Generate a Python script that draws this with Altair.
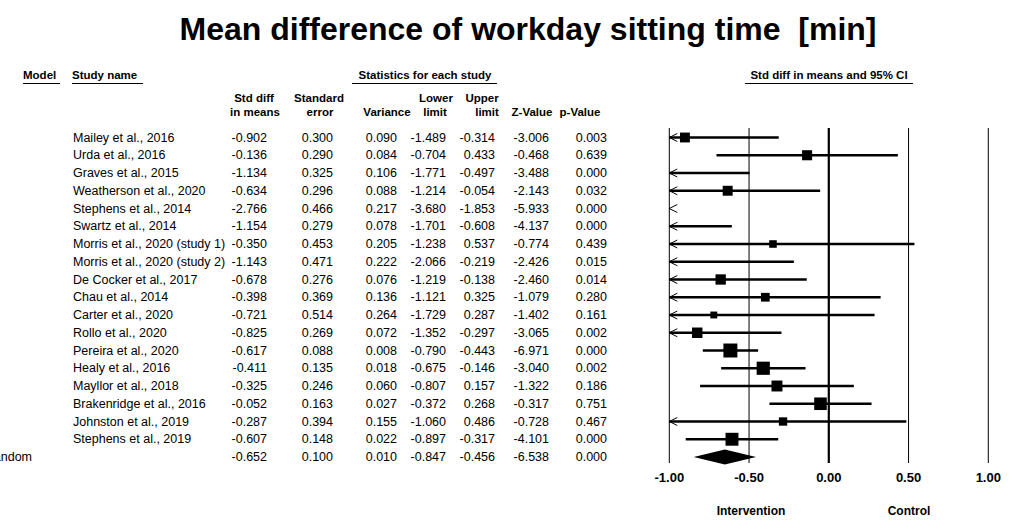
import altair as alt
import pandas as pd

# ---------------- data ----------------
studies = ["Mailey et al., 2016", "Urda et al., 2016", "Graves et al., 2015",
           "Weatherson et al., 2020", "Stephens et al., 2014", "Swartz et al., 2014",
           "Morris et al., 2020 (study 1)", "Morris et al., 2020 (study 2)",
           "De Cocker et al., 2017", "Chau et al., 2014", "Carter et al., 2020",
           "Rollo et al., 2020", "Pereira et al., 2020", "Healy et al., 2016",
           "Mayllor et al., 2018", "Brakenridge et al., 2016", "Johnston et al., 2019",
           "Stephens et al., 2019"]
std_diff = [-0.902, -0.136, -1.134, -0.634, -2.766, -1.154, -0.350, -1.143, -0.678,
            -0.398, -0.721, -0.825, -0.617, -0.411, -0.325, -0.052, -0.287, -0.607]
std_err = [0.300, 0.290, 0.325, 0.296, 0.466, 0.279, 0.453, 0.471, 0.276,
           0.369, 0.514, 0.269, 0.088, 0.135, 0.246, 0.163, 0.394, 0.148]
variance = [0.090, 0.084, 0.106, 0.088, 0.217, 0.078, 0.205, 0.222, 0.076,
            0.136, 0.264, 0.072, 0.008, 0.018, 0.060, 0.027, 0.155, 0.022]
lower = [-1.489, -0.704, -1.771, -1.214, -3.680, -1.701, -1.238, -2.066, -1.219,
         -1.121, -1.729, -1.352, -0.790, -0.675, -0.807, -0.372, -1.060, -0.897]
upper = [-0.314, 0.433, -0.497, -0.054, -1.853, -0.608, 0.537, -0.219, -0.138,
         0.325, 0.287, -0.297, -0.443, -0.146, 0.157, 0.268, 0.486, -0.317]
z_value = [-3.006, -0.468, -3.488, -2.143, -5.933, -4.137, -0.774, -2.426, -2.460,
           -1.079, -1.402, -3.065, -6.971, -3.040, -1.322, -0.317, -0.728, -4.101]
p_value = [0.003, 0.639, 0.000, 0.032, 0.000, 0.000, 0.439, 0.015, 0.014,
           0.280, 0.161, 0.002, 0.000, 0.002, 0.186, 0.751, 0.467, 0.000]

# summary (random effects) row
summary_model = "Random"
summary_vals = {"std_diff": -0.652, "std_err": 0.100, "variance": 0.010,
                "lower": -0.847, "upper": -0.456, "z_value": -6.538, "p_value": 0.000}

axis_ticks = [-1.0, -0.5, 0.0, 0.5, 1.0]
axis_tick_labels = ["-1.00", "-0.50", "0.00", "0.50", "1.00"]

title_text = "Mean difference of workday sitting time \u00a0[min]"

# ---------------- tables ----------------
n = len(studies)
rows = pd.DataFrame({
    "row": list(range(n)),
    "study": studies,
    "std_diff": std_diff, "std_err": std_err, "variance": variance,
    "lower": lower, "upper": upper, "z_value": z_value, "p_value": p_value,
})
summary = pd.DataFrame([dict(row=n, model=summary_model, **summary_vals)])
num_cols = ["std_diff", "std_err", "variance", "lower", "upper", "z_value", "p_value"]
table = pd.concat([rows, summary], ignore_index=True)
for c in num_cols:
    table[c + "_txt"] = table[c].map(lambda v: f"{v:.3f}")
table["model"] = table["model"].fillna("")
table["study"] = table["study"].fillna("")

ticks = pd.DataFrame({"t": axis_ticks, "label": axis_tick_labels})

# diamond polygon for summary (points along x: lower, estimate, upper)
diamond = pd.DataFrame({
    "x": [summary_vals["lower"], summary_vals["std_diff"], summary_vals["upper"]],
    "w": [0.0, 1.0, 0.0],
    "row": [n, n, n],
})

# ---------------- styling / layout ----------------
FONT = "Liberation Sans, Arial, sans-serif"
xscale = alt.Scale(domain=[-1, 1], range=[669.3, 988.3], nice=False, zero=False)
yscale = alt.Scale(domain=[0, n], range=[137.5, 457], nice=False, zero=False)
Y = alt.Y("row:Q", scale=yscale, axis=None)

layers = []

# title
layers.append(alt.Chart(pd.DataFrame({"t": [title_text]})).mark_text(
    font=FONT, fontSize=32, fontWeight="bold", align="center", baseline="alphabetic",
    color="black").encode(x=alt.value(528), y=alt.value(40), text="t:N"))

# header texts
headers = [
    ("Model", 23, 76, "left"), ("Study name", 72, 76, "left"),
    ("Statistics for each study", 425, 76, "center"),
    ("Std diff in means and 95% CI", 829, 76, "center"),
    ("Std diff", 254, 99, "center"), ("in means", 255, 113, "center"),
    ("Standard", 319, 99, "center"), ("error", 320, 113, "center"),
    ("Variance", 387, 113, "center"),
    ("Lower", 436, 99, "center"), ("limit", 435, 113, "center"),
    ("Upper", 482, 99, "center"), ("limit", 487, 113, "center"),
    ("Z-Value", 532, 113, "center"), ("p-Value", 580, 113, "center"),
]
for txt, hx, hy, al in headers:
    layers.append(alt.Chart(pd.DataFrame({"t": [txt]})).mark_text(
        font=FONT, fontSize=11.5, fontWeight="bold", align=al, baseline="middle",
        color="black").encode(x=alt.value(hx), y=alt.value(hy), text="t:N"))

# underlines
for x1, x2 in [(23, 60), (72, 143), (352, 497), (745, 913)]:
    layers.append(alt.Chart(pd.DataFrame({"a": [0]})).mark_rule(
        color="black", strokeWidth=1).encode(
        x=alt.value(x1), x2=alt.value(x2), y=alt.value(83.5)))

# table body
body_font = dict(font=FONT, fontSize=12.5, color="black", baseline="middle")
layers.append(alt.Chart(table).mark_text(align="left", **body_font).encode(
    x=alt.value(73), y=Y, text="study:N"))
layers.append(alt.Chart(table).mark_text(align="right", **body_font).encode(
    x=alt.value(32), y=Y, text="model:N"))
col_right = {"std_diff": 267, "std_err": 333, "variance": 397, "lower": 446,
             "upper": 495, "z_value": 549, "p_value": 607}
for c in num_cols:
    layers.append(alt.Chart(table).mark_text(align="right", **body_font).encode(
        x=alt.value(col_right[c]), y=Y, text=f"{c}_txt:N"))

# vertical reference lines
layers.append(alt.Chart(ticks).mark_rule(color="black").encode(
    x=alt.X("t:Q", scale=xscale, axis=None),
    y=alt.value(128), y2=alt.value(463),
    strokeWidth=alt.condition("datum.t == 0", alt.value(2.2), alt.value(1))))

# tick labels
layers.append(alt.Chart(ticks).mark_text(
    font=FONT, fontSize=13, fontWeight="bold", baseline="middle", color="black").encode(
    x=alt.X("t:Q", scale=xscale, axis=None), y=alt.value(478), text="label:N"))

# bottom labels
for txt, lx in [("Intervention", 751), ("Control", 909)]:
    layers.append(alt.Chart(pd.DataFrame({"t": [txt]})).mark_text(
        font=FONT, fontSize=12, fontWeight="bold", baseline="middle",
        color="black").encode(x=alt.value(lx), y=alt.value(511), text="t:N"))

# confidence interval lines (clipped at the axis limits)
ci = alt.Chart(rows).transform_calculate(
    lo="max(datum.lower, -1)", hi="min(datum.upper, 1)"
).transform_filter("datum.hi > -1")
layers.append(ci.mark_rule(color="black", strokeWidth=2.6).encode(
    x=alt.X("lo:Q", scale=xscale, axis=None), x2="hi:Q", y=Y))

# left arrows for intervals extending beyond -1
arrow_path = "M 2 -1 L 0 0 L 2 1"
layers.append(alt.Chart(rows).transform_filter("datum.lower < -1").transform_calculate(
    edge="-1").mark_point(shape=arrow_path, filled=False, color="black",
                          strokeWidth=1, size=64, opacity=1).encode(
    x=alt.X("edge:Q", scale=xscale, axis=None), y=Y))

# study squares sized by random-effects weight
layers.append(alt.Chart(rows).transform_filter("datum.std_diff >= -1").transform_calculate(
    sz="16 / (datum.variance + 0.074)").mark_point(
    shape="square", filled=True, color="black", opacity=1).encode(
    x=alt.X("std_diff:Q", scale=xscale, axis=None), y=Y,
    size=alt.Size("sz:Q", scale=None)))

# summary diamond
layers.append(alt.Chart(diamond).transform_calculate(
    top="datum.row - 0.42 * datum.w", bot="datum.row + 0.42 * datum.w"
).mark_area(color="black", orient="vertical", opacity=1).encode(
    x=alt.X("x:Q", scale=xscale, axis=None),
    y=alt.Y("top:Q", scale=yscale, axis=None), y2="bot:Q"))

chart = alt.layer(*layers).properties(
    width=1031, height=532, autosize="none", padding=0, background="white"
).configure_view(stroke=None)

chart.save("out.html", embed_options={"renderer": "svg", "actions": False})
